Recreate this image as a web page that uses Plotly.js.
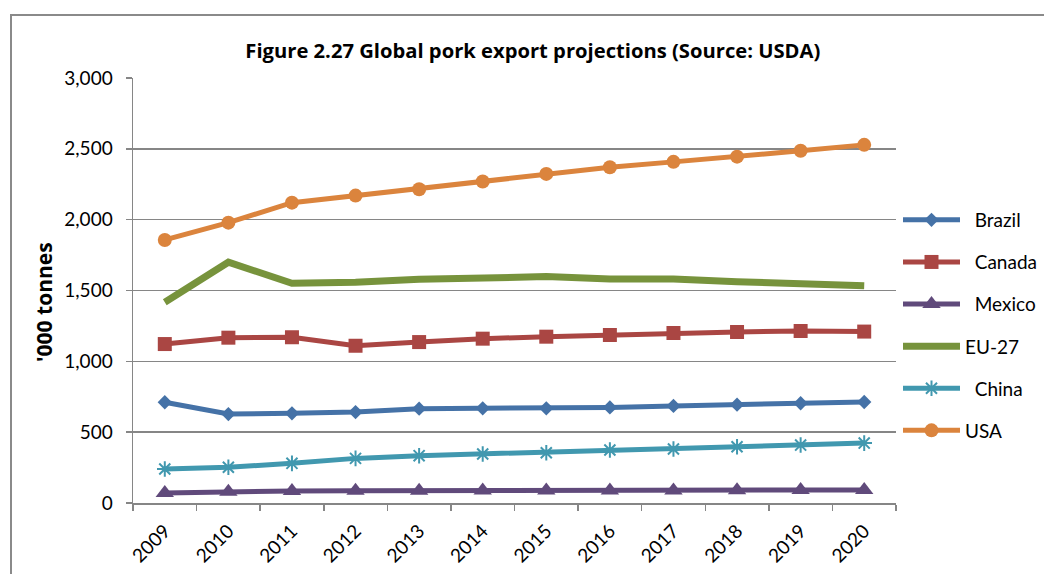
<!DOCTYPE html>
<html>
<head>
<meta charset="utf-8">
<script src="https://cdn.plot.ly/plotly-3.0.1.min.js"></script>
<style>
  html, body { margin:0; padding:0; background:#fff; }
  #wrap { position:relative; width:1044px; height:574px; overflow:hidden; }
  #chart { position:absolute; left:0; top:0; width:1044px; height:574px; }
  #frame { position:absolute; left:10px; top:14px; width:1100px; height:700px;
           border-left:2px solid #8a8a8a; border-top:2px solid #8a8a8a; pointer-events:none; z-index:5; }
</style>
</head>
<body>
<div id="wrap">
  <div id="chart"></div>
  <div id="frame"></div>
</div>
<script>
const years = ['2009','2010','2011','2012','2013','2014','2015','2016','2017','2018','2019','2020'];
const brazil = [711, 628, 633, 642, 666, 668, 668, 675, 685, 694, 704, 713];
const canada = [1122, 1167, 1170, 1110, 1136, 1160, 1174, 1186, 1200, 1207, 1214, 1210];
const mexico = [70, 80, 85, 87, 87, 88, 88, 89, 89, 90, 91, 92];
const eu27 = [1417, 1700, 1551, 1558, 1579, 1594, 1598, 1581, 1581, 1562, 1551, 1534];
const china = [240, 252, 280, 315, 334, 346, 355, 374, 381, 397, 409, 423];
const usa = [1857, 1979, 2120, 2170, 2215, 2269, 2323, 2370, 2408, 2445, 2486, 2528];

const FONT = 'Lato, "Open Sans", "Liberation Sans", sans-serif';
const TFONT = '"Open Sans", Lato, "Liberation Sans", sans-serif';

function tr(name, y, color, lw, marker, grp) {
  const t = {
    type: 'scatter', mode: marker ? 'lines+markers' : 'lines',
    x: years, y: y, name: name, legendgroup: grp,
    line: { color: color, width: lw },
    hoverinfo: 'x+y+name'
  };
  if (marker) t.marker = marker;
  return t;
}

const NB = '\u00a0\u00a0';
const data = [
  tr(NB + 'Brazil', brazil, '#4572A7', 5, { symbol: 'diamond', size: 11, color: '#4572A7' }, 'a'),
  tr(NB + 'Canada', canada, '#AA4643', 5, { symbol: 'square', size: 14, color: '#AA4643' }, 'b'),
  tr(NB + 'Mexico', mexico, '#604A7B', 5, { symbol: 'triangle-up', size: 16, color: '#604A7B' }, 'c'),
  tr('EU-27', eu27, '#77933C', 7, null, 'd'),
  tr(NB + 'China', china, '#4198AF', 5, { symbol: 'asterisk-open', size: 13, color: '#4198AF', line: { color: '#4198AF', width: 2 } }, 'e'),
  tr('USA', usa, '#DB843D', 5, { symbol: 'circle', size: 14, color: '#DB843D' }, 'f')
];

const layout = {
  width: 1044, height: 574,
  margin: { l: 133, r: 148, t: 78, b: 71 },
  paper_bgcolor: '#ffffff', plot_bgcolor: '#ffffff',
  font: { family: FONT, size: 19, color: '#000' },
  title: {
    text: '<b>Figure 2.27 Global pork export projections (Source: USDA)</b>',
    font: { family: TFONT, size: 20.2, color: '#000' },
    x: 0.524, xref: 'paper', xanchor: 'center',
    y: 1 - 51 / 574, yref: 'container', yanchor: 'middle'
  },
  xaxis: {
    type: 'category', range: [-0.5, 11.5], autorange: false,
    tickson: 'boundaries', ticks: 'outside', ticklen: 6, tickcolor: '#868686', tickwidth: 1.5,
    showline: true, linecolor: '#868686', linewidth: 1.5,
    showgrid: false, zeroline: false,
    tickangle: -45, tickfont: { family: FONT, size: 19 },
    ticklabelstandoff: 8
  },
  yaxis: {
    range: [0, 3000], dtick: 500, tickformat: ',d',
    ticks: 'outside', ticklen: 6, tickcolor: '#868686', tickwidth: 1.5,
    showline: true, linecolor: '#868686', linewidth: 1.5,
    showgrid: true, gridcolor: '#868686', gridwidth: 1.5,
    zeroline: false, tickfont: { family: FONT, size: 19 },
    ticklabelstandoff: 9
  },
  annotations: [{
    text: "<b>'000 tonnes</b>", textangle: -90,
    xref: 'paper', yref: 'paper', x: (44 - 133) / 763, y: (503 - 302) / 425,
    xanchor: 'center', yanchor: 'middle', showarrow: false,
    font: { family: TFONT, size: 21, color: '#000' }
  }],
  legend: {
    xref: 'container', yref: 'container',
    x: 898 / 1044, y: 1 - 201 / 574, xanchor: 'left', yanchor: 'top',
    font: { family: FONT, size: 19, color: '#000' },
    tracegroupgap: 14.4, itemwidth: 57,
    bgcolor: 'rgba(0,0,0,0)'
  },
  showlegend: true
};

Plotly.newPlot('chart', data, layout, { displayModeBar: false, staticPlot: true });
</script>
</body>
</html>
